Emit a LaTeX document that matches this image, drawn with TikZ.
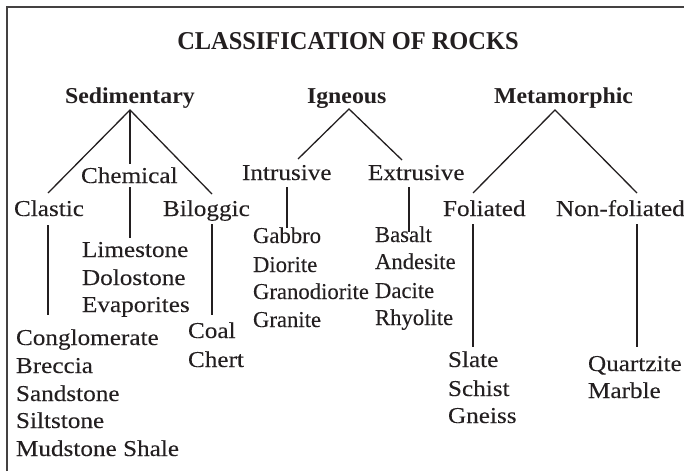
\documentclass[tikz,border=0pt]{standalone}
\usepackage{fontspec}
\setmainfont{Liberation Serif}
\newfontfamily\widefont[FakeStretch=1.11,FakeBold=0.12]{Liberation Serif}
\newfontfamily\headfont[FakeStretch=1.05]{Liberation Serif}
\newfontfamily\titlefont[FakeStretch=0.95]{Liberation Serif}
\newfontfamily\plainfont[FakeBold=0.12]{Liberation Serif}
\definecolor{ink}{HTML}{231F20}
\begin{document}
\begin{tikzpicture}[x=1pt,y=-1pt,
  txt/.style={inner sep=0pt,outer sep=0pt,anchor=base west,text=ink},
  wide/.style={txt,font=\widefont\fontsize{22.7}{27}\selectfont},
  narrow/.style={txt,font=\plainfont\fontsize{22.7}{27}\selectfont},
  head/.style={txt,font=\headfont\bfseries\fontsize{22.7}{27}\selectfont},
  ttl/.style={txt,anchor=base,font=\titlefont\bfseries\fontsize{25.7}{30}\selectfont},
  link/.style={draw=ink,line width=1.3pt},
  frame/.style={draw=ink!85,line width=1.3pt}]
\useasboundingbox (0,0) rectangle (684,471);
% frame
\coordinate (fbl) at (7,471);
\coordinate (ftl) at (7,7);
\coordinate (ftr) at (684,7);
\draw[frame] (fbl) -- (ftl) -- (ftr);
% title
\node[ttl] (title) at (348,49) {CLASSIFICATION OF ROCKS};
% main classes
\node[head] (sed) at (65,103) {Sedimentary};
\node[head] (ign) at (307,103) {Igneous};
\node[head] (met) at (494,103) {Metamorphic};
% sub classes
\node[wide] (chem) at (81,183) {Chemical};
\node[wide] (clas) at (14,216) {Clastic};
\node[wide] (bio) at (163,216) {Biloggic};
\node[wide] (intr) at (242,180) {Intrusive};
\node[wide] (extr) at (368,180) {Extrusive};
\node[wide] (fol) at (443,216) {Foliated};
\node[wide] (nfol) at (556,216) {Non-foliated};
% rock lists
\node[wide] (lime) at (82,257) {Limestone};
\node[wide] (dolo) at (82,285) {Dolostone};
\node[wide] (evap) at (82,312) {Evaporites};
\node[wide] (cong) at (16,345) {Conglomerate};
\node[wide] (brec) at (16,373) {Breccia};
\node[wide] (sand) at (16,401) {Sandstone};
\node[wide] (silt) at (16,428) {Siltstone};
\node[wide] (mud) at (16,456) {Mudstone Shale};
\node[wide] (coal) at (188,338) {Coal};
\node[wide] (chert) at (188,367) {Chert};
\node[narrow] (gab) at (253,243) {Gabbro};
\node[narrow] (dio) at (253,272) {Diorite};
\node[narrow] (gran) at (253,299) {Granodiorite};
\node[narrow] (grt) at (253,327) {Granite};
\node[narrow] (bas) at (375,242) {Basalt};
\node[narrow] (and) at (375,269) {Andesite};
\node[narrow] (dac) at (375,298) {Dacite};
\node[narrow] (rhy) at (375,325) {Rhyolite};
\node[wide] (slate) at (448,367) {Slate};
\node[wide] (schist) at (448,396) {Schist};
\node[wide] (gneiss) at (448,423) {Gneiss};
\node[wide] (quartz) at (588,371) {Quartzite};
\node[wide] (marb) at (588,398) {Marble};
% connector points
\coordinate (sedA) at (130,110);
\coordinate (clasT) at (48,193);
\coordinate (chemT) at (130,164);
\coordinate (bioT) at (212,194);
\coordinate (clasB) at (48,225);
\coordinate (congT) at (48,315);
\coordinate (chemB) at (130,187);
\coordinate (limeT) at (130,238);
\coordinate (bioB) at (212,224);
\coordinate (coalT) at (212,315);
\coordinate (ignA) at (349,109);
\coordinate (intrT) at (298,159);
\coordinate (extrT) at (402,160);
\coordinate (intrB) at (287,187);
\coordinate (gabT) at (287,228);
\coordinate (extrB) at (409,187);
\coordinate (basT) at (409,232);
\coordinate (metA) at (555,110);
\coordinate (folT) at (473,193);
\coordinate (nfolT) at (637,193);
\coordinate (folB) at (473,224);
\coordinate (slateT) at (473,347);
\coordinate (nfolB) at (637,224);
\coordinate (quartzT) at (637,347);
% connectors
\draw[link] (clasT) -- (sedA) -- (bioT);
\draw[link] (sedA) -- (chemT);
\draw[link] (clasB) -- (congT);
\draw[link] (chemB) -- (limeT);
\draw[link] (bioB) -- (coalT);
\draw[link] (intrT) -- (ignA) -- (extrT);
\draw[link] (intrB) -- (gabT);
\draw[link] (extrB) -- (basT);
\draw[link] (folT) -- (metA) -- (nfolT);
\draw[link] (folB) -- (slateT);
\draw[link] (nfolB) -- (quartzT);
\end{tikzpicture}
\end{document}
